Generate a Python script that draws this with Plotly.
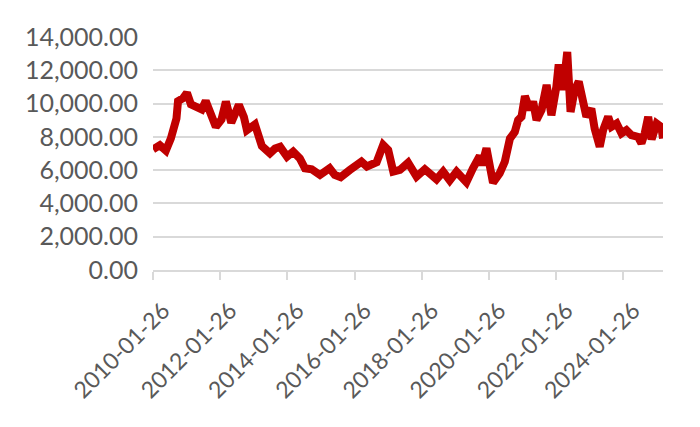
import plotly.graph_objects as go

# values
dates = [
    '2010-01-26', '2010-04-10', '2010-06-15', '2010-08-08', '2010-10-08', '2010-10-25',
    '2010-12-18', '2011-01-30', '2011-03-14', '2011-05-28', '2011-07-10', '2011-08-22',
    '2011-10-15', '2011-12-10', '2012-02-10', '2012-03-28', '2012-05-26', '2012-08-16',
    '2012-10-10', '2012-11-12', '2013-02-07', '2013-03-10', '2013-04-23', '2013-07-20',
    '2013-09-14', '2013-11-08', '2014-01-22', '2014-03-30', '2014-06-10', '2014-08-05',
    '2014-10-17', '2015-01-15', '2015-04-30', '2015-06-25', '2015-08-28', '2015-12-05',
    '2016-04-10', '2016-06-08', '2016-07-10', '2016-09-22', '2016-12-02', '2017-01-26',
    '2017-03-22', '2017-06-02', '2017-08-30', '2017-11-30', '2018-02-28', '2018-05-12',
    '2018-07-05', '2018-09-15', '2018-11-26', '2019-02-08', '2019-05-26', '2019-08-05',
    '2019-10-18', '2019-11-10', '2019-12-30', '2020-03-10', '2020-05-22', '2020-07-16',
    '2020-09-10', '2020-11-02', '2020-12-08', '2021-01-14', '2021-02-20', '2021-04-15',
    '2021-05-20', '2021-06-26', '2021-08-20', '2021-10-14', '2021-12-05', '2022-01-28',
    '2022-02-22', '2022-04-10', '2022-05-26', '2022-07-01', '2022-08-15', '2022-09-28',
    '2022-11-14', '2022-12-20', '2023-02-12', '2023-03-20', '2023-05-14', '2023-06-20',
    '2023-08-14', '2023-09-20', '2023-11-14', '2024-01-06', '2024-02-28', '2024-04-22',
    '2024-07-04', '2024-08-10', '2024-09-14', '2024-10-22', '2024-11-28', '2025-01-22',
    '2025-03-14', '2025-04-01',
]
prices = [
    7250, 7500, 7180, 7900, 9100, 10150,
    10320, 10650, 9950, 9820, 9650, 10150,
    9350, 8610, 9050, 10120, 8850, 9920,
    9200, 8400, 8750, 8100, 7450, 7010,
    7300, 7400, 6810, 7110, 6710, 6110,
    6050, 5710, 6110, 5710, 5580, 6010,
    6510, 6220, 6310, 6480, 7510, 7210,
    5910, 6010, 6450, 5610, 6050, 5610,
    5450, 5910, 5380, 5910, 5280, 6110,
    6850, 6300, 7310, 5250, 5810, 6500,
    7900, 8300, 9010, 9210, 10450, 9620,
    10120, 9010, 9620, 11120, 9300, 11020,
    12350, 10820, 13100, 9500, 10820, 11320,
    10020, 9210, 9700, 8500, 7410, 8400,
    9210, 8610, 8800, 8210, 8400, 8100,
    8000, 7610, 8210, 9210, 7850, 8800,
    8600, 7900,
]
tick_dates = ['2010-01-26', '2012-01-26', '2014-01-26', '2016-01-26',
              '2018-01-26', '2020-01-26', '2022-01-26', '2024-01-26']
y_ticks = [0, 2000, 4000, 6000, 8000, 10000, 12000, 14000]

grid_color = '#d9d9d9'
text_color = '#595959'

fig = go.Figure()

fig.add_trace(go.Scatter(
    x=dates,
    y=prices,
    mode='lines',
    line=dict(color='#c00000', width=8),
    showlegend=False,
))

# the page body adds an 8px offset, margins account for it
fig.update_layout(
    width=700,
    height=427,
    margin=dict(l=145, r=45, t=29, b=165),
    paper_bgcolor='white',
    plot_bgcolor='white',
    font=dict(family='Lato', size=25, color=text_color),
    xaxis=dict(
        range=['2010-01-26', '2025-04-01'],
        tickvals=tick_dates,
        ticktext=tick_dates,
        tickangle=-45,
        tickfont=dict(size=23),
        showgrid=False,
        showline=True,
        linecolor=grid_color,
        linewidth=2,
        ticks='outside',
        ticklen=8,
        tickwidth=2,
        tickcolor=grid_color,
        ticklabelstandoff=8,
        ticklabelshift=10,
    ),
    yaxis=dict(
        range=[0, 14000],
        tickvals=y_ticks,
        tickformat=',.2f',
        showgrid=True,
        gridcolor=grid_color,
        gridwidth=2,
        zeroline=False,
        ticklabelstandoff=14,
    ),
)

fig.write_html("out.html")
